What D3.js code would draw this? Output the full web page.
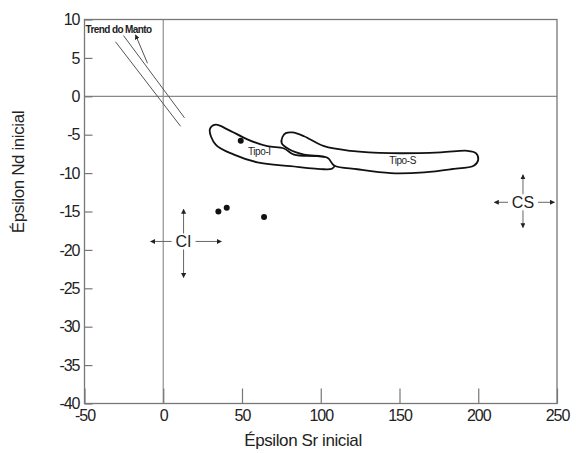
<!DOCTYPE html>
<html>
<head>
<meta charset="utf-8">
<script src="https://cdn.jsdelivr.net/npm/d3@7"></script>
<style>
  body { margin: 0; background: #fff; }
  svg { display: block; font-family: Arial, "Liberation Sans", sans-serif; }
  .tick text { font-size: 16px; letter-spacing: -1px; fill: #222; }
  .tick line { stroke: #777; stroke-width: 1.2; }
</style>
</head>
<body>
<svg id="chart"></svg>
<script>
// axis ticks
const xTicks = [-50, 0, 50, 100, 150, 200, 250]
const yTicks = [10, 5, 0, -5, -10, -15, -20, -25, -30, -35, -40]

// sample points (eSr, eNd)
const samples = [[35, -15.0], [40.3, -14.5], [64, -15.7], [49.2, -5.8]]

// field outlines (eSr, eNd)
const tipoI = [[29.6, -4.3], [33.3, -6.3], [44.9, -7.6], [59.8, -8.6], [80.9, -9.1], [102.1, -9.5],
  [107.4, -9.4], [108.9, -8.9], [106.4, -8.1], [97.9, -7.8], [83, -7.6], [76.7, -6.8],
  [66.1, -6.5], [53.4, -5.6], [40.7, -4.3], [33.3, -3.7]]
const tipoS = [[77.8, -4.8], [82, -4.7], [89.4, -5.2], [102.1, -6.5], [119.1, -7.1], [144.5, -7.4],
  [176.3, -7.3], [193.2, -7.1], [198.5, -7.4], [200, -8.2], [197.4, -9.0], [182.6, -9.5],
  [165.7, -9.9], [144.5, -10.0], [123.3, -9.5], [108.5, -9.0], [104.3, -8.0], [89.4, -7.6],
  [79.9, -6.9], [75.2, -6.1], [75.7, -5.3]]
const fieldLabels = [{ name: "Tipo-I", x: 61, y: -7.6 }, { name: "Tipo-S", x: 152, y: -8.8 }]

// mantle trend: two parallel lines + leader
const mantleA = [[-30.3, 7.1], [11, -3.9]]
const mantleB = [[-25.2, 7.9], [13.5, -2.8]]
const mantleLeader = [[-10, 4.3], [-17.6, 8.0]]

// crustal reservoirs with arrow tips
const crosses = [
  { name: "CI", x: 12.9, y: -18.9, left: -8, right: 36.9, up: -14.7, down: -23.6 },
  { name: "CS", x: 228.4, y: -13.8, left: 210.2, right: 248.4, up: -10.2, down: -17.1 }
]

const width = 577, height = 453
const svg = d3.select("#chart").attr("width", width).attr("height", height)

const x = d3.scaleLinear().domain([-50, 250]).range([84.5, 557])
const y = d3.scaleLinear().domain([-40, 10]).range([403.5, 19.5])

svg.append("defs").append("marker")
    .attr("id", "head")
    .attr("viewBox", "0 0 10 10")
    .attr("refX", 9).attr("refY", 5)
    .attr("markerWidth", 5).attr("markerHeight", 5)
    .attr("markerUnits", "userSpaceOnUse")
    .attr("orient", "auto")
  .append("path")
    .attr("d", "M0,0L10,5L0,10Z")
    .attr("fill", "#222")

// zero lines
svg.append("line")
    .attr("x1", x(0)).attr("x2", x(0)).attr("y1", y(10)).attr("y2", y(-40))
    .attr("stroke", "#999").attr("stroke-width", 1.3)
svg.append("line")
    .attr("x1", x(-50)).attr("x2", x(250)).attr("y1", y(0)).attr("y2", y(0))
    .attr("stroke", "#888").attr("stroke-width", 1.2)

// axes (plain hyphen for negatives, like the original)
const fmt = d => String(d)
const xAxis = svg.append("g")
    .attr("transform", `translate(0,${y(-40)})`)
    .call(d3.axisBottom(x).tickValues(xTicks).tickFormat(fmt).tickSize(-15).tickPadding(6))
xAxis.select(".domain").remove()

const yAxis = svg.append("g")
    .attr("transform", `translate(${x(-50)},0)`)
    .call(d3.axisLeft(y).tickValues(yTicks).tickFormat(fmt).tickSize(-8).tickPadding(5))
yAxis.select(".domain").remove()

// frame
svg.append("rect")
    .attr("x", x(-50)).attr("y", y(10))
    .attr("width", x(250) - x(-50)).attr("height", y(-40) - y(10))
    .attr("fill", "none").attr("stroke", "#777").attr("stroke-width", 1.3)

// axis titles
svg.append("text")
    .attr("x", 303).attr("y", 446)
    .attr("text-anchor", "middle")
    .attr("font-size", 17).attr("letter-spacing", "-0.4px").attr("fill", "#222")
    .text("Épsilon Sr inicial")
svg.append("text")
    .attr("transform", "translate(24,172) rotate(-90)")
    .attr("text-anchor", "middle")
    .attr("font-size", 17).attr("letter-spacing", "-0.4px").attr("fill", "#222")
    .text("Épsilon Nd inicial")

// mantle trend
const line = d3.line().x(d => x(d[0])).y(d => y(d[1]))
for (let seg of [mantleA, mantleB]) {
    svg.append("path").attr("d", line(seg))
        .attr("fill", "none").attr("stroke", "#555").attr("stroke-width", 1)
}
svg.append("path").attr("d", line(mantleLeader))
    .attr("fill", "none").attr("stroke", "#555").attr("stroke-width", 1)
    .attr("marker-end", "url(#head)")
svg.append("text")
    .attr("x", x(-50) + 1).attr("y", y(8.3))
    .attr("font-size", 10).attr("font-weight", "bold").attr("letter-spacing", "-0.6px")
    .attr("fill", "#222")
    .text("Trend do Manto")

// fields
const closed = d3.line().x(d => x(d[0])).y(d => y(d[1])).curve(d3.curveCatmullRomClosed)
svg.append("path").attr("d", closed(tipoI))
    .attr("fill", "#fff").attr("stroke", "#111").attr("stroke-width", 1.8)
svg.append("path").attr("d", closed(tipoS))
    .attr("fill", "#fff").attr("stroke", "#111").attr("stroke-width", 1.8)
svg.selectAll(".flabel").data(fieldLabels).enter().append("text")
    .attr("class", "flabel")
    .attr("x", d => x(d.x)).attr("y", d => y(d.y))
    .attr("text-anchor", "middle")
    .attr("font-size", 10).attr("letter-spacing", "-0.4px").attr("fill", "#222")
    .text(d => d.name)

// samples
svg.selectAll(".pt").data(samples).enter().append("circle")
    .attr("class", "pt")
    .attr("cx", d => x(d[0])).attr("cy", d => y(d[1]))
    .attr("r", 3).attr("fill", "#111")

// reservoirs
const gapX = { CI: 12, CS: 15 }, gapY = 8
for (let c of crosses) {
    const cx = x(c.x), cy = y(c.y)
    const g = svg.append("g")
    const arm = (x1, y1, x2, y2) => g.append("line")
        .attr("x1", x1).attr("y1", y1).attr("x2", x2).attr("y2", y2)
        .attr("stroke", "#666").attr("stroke-width", 1)
        .attr("marker-end", "url(#head)")
    arm(cx - gapX[c.name], cy, x(c.left), cy)
    arm(cx + gapX[c.name], cy, x(c.right), cy)
    arm(cx, cy - gapY, cx, y(c.up))
    arm(cx, cy + gapY, cx, y(c.down))
    g.append("text")
        .attr("x", cx).attr("y", cy)
        .attr("dy", "0.36em")
        .attr("text-anchor", "middle")
        .attr("font-size", 16).attr("fill", "#222")
        .text(c.name)
}
</script>
</body>
</html>
